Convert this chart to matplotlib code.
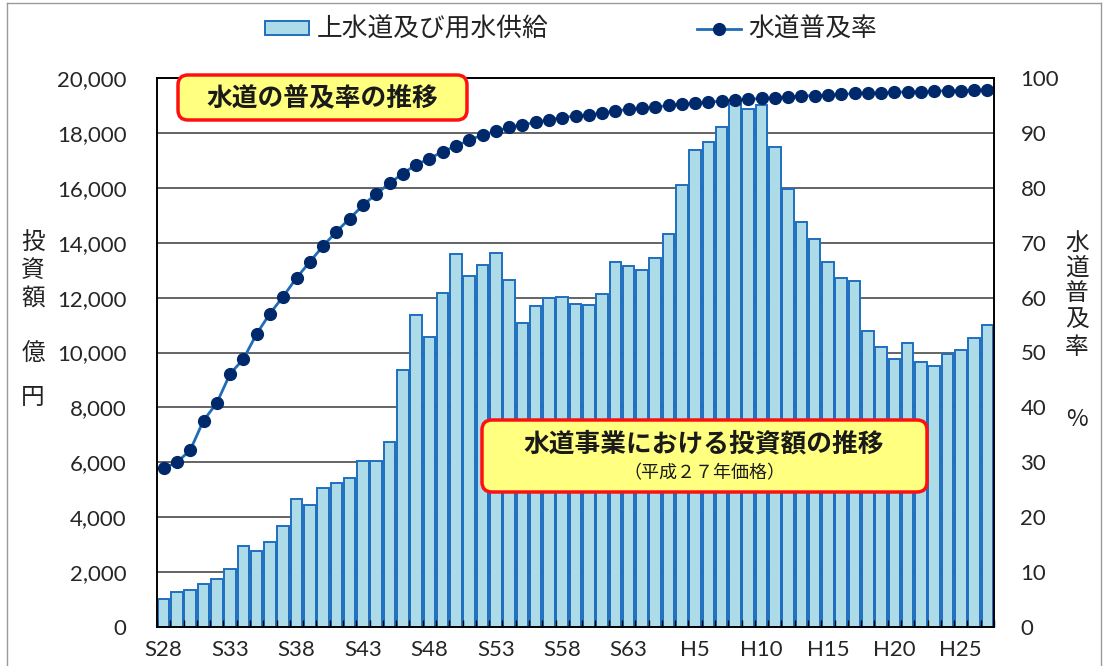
import numpy as np
import matplotlib
matplotlib.use("Agg")
import matplotlib.pyplot as plt
from matplotlib.patches import FancyBboxPatch
from matplotlib.lines import Line2D

plt.rcParams['font.family'] = ['Noto Sans CJK JP', 'DejaVu Sans']

# 年度 (S28 - H27)
years = ["S28", "S29", "S30", "S31", "S32", "S33", "S34", "S35", "S36", "S37",
         "S38", "S39", "S40", "S41", "S42", "S43", "S44", "S45", "S46", "S47",
         "S48", "S49", "S50", "S51", "S52", "S53", "S54", "S55", "S56", "S57",
         "S58", "S59", "S60", "S61", "S62", "S63", "H1", "H2", "H3", "H4",
         "H5", "H6", "H7", "H8", "H9", "H10", "H11", "H12", "H13", "H14",
         "H15", "H16", "H17", "H18", "H19", "H20", "H21", "H22", "H23", "H24",
         "H25", "H26", "H27"]

# 投資額 (億円, 平成27年価格)
investment = [1030, 1260, 1340, 1560, 1740, 2130, 2950, 2780, 3100, 3690,
              4660, 4460, 5060, 5250, 5430, 6040, 6060, 6750, 9370, 11370,
              10560, 12160, 13580, 12800, 13200, 13620, 12650, 11080, 11700, 12000,
              12040, 11770, 11730, 12140, 13280, 13160, 12990, 13460, 14330, 16100,
              17390, 17680, 18230, 19050, 18860, 19000, 17490, 15970, 14770, 14130,
              13280, 12720, 12590, 10770, 10190, 9770, 10330, 9640, 9490, 9950,
              10080, 10520, 11000]

# 水道普及率 (%)
coverage = [28.9, 30.0, 32.2, 37.6, 40.8, 46.1, 48.8, 53.4, 57.1, 60.2,
            63.6, 66.5, 69.4, 72.0, 74.4, 76.8, 78.9, 80.8, 82.6, 84.2,
            85.3, 86.6, 87.6, 88.7, 89.6, 90.3, 91.0, 91.5, 91.9, 92.4,
            92.8, 93.1, 93.3, 93.6, 94.0, 94.3, 94.5, 94.7, 95.0, 95.2,
            95.4, 95.6, 95.8, 96.0, 96.1, 96.3, 96.4, 96.6, 96.7, 96.8,
            96.9, 97.0, 97.2, 97.3, 97.3, 97.4, 97.5, 97.5, 97.6, 97.7,
            97.7, 97.8, 97.9]

tick_labels = ["S28", "S33", "S38", "S43", "S48", "S53", "S58", "S63",
               "H5", "H10", "H15", "H20", "H25"]
left_ticks = list(range(0, 20001, 2000))
right_ticks = list(range(0, 101, 10))

W, H = 1108, 666
fig = plt.figure(figsize=(W / 100, H / 100), dpi=100)
ax = fig.add_axes([157 / W, 1 - 627 / H, (994 - 157) / W, (627 - 78) / H])

x = np.arange(len(years))
bars = ax.bar(x, investment, width=0.88, color="#ADDCE8", edgecolor="#1F6FC0",
              linewidth=1.4, zorder=1, label="上水道及び用水供給")
for v in left_ticks[1:]:
    ax.axhline(v, color="#3a3a3a", lw=1.1, zorder=0.5)

ax.set_xlim(-0.5, len(years) - 0.5)
ax.set_ylim(0, 20000)
ax.set_yticks(left_ticks)
ax.set_yticklabels([f"{v:,}" for v in left_ticks])
ax.set_xticks([years.index(t) for t in tick_labels])
ax.set_xticklabels(tick_labels)
ax.set_xticks(np.arange(-0.5, len(years)), minor=True)
ax.tick_params(axis='x', which='major', length=0, pad=9)
ax.tick_params(axis='x', which='minor', direction='in', length=5, width=1, color='black')
ax.tick_params(axis='y', length=0, pad=22)
for lab in ax.get_xticklabels() + ax.get_yticklabels():
    lab.set_fontfamily('Lato')
    lab.set_fontsize(16)
    lab.set_color('#262626')
for s in ax.spines.values():
    s.set_color('black')
    s.set_linewidth(1.2)

ax2 = ax.twinx()
line, = ax2.plot(x, coverage, color="#1F6DB5", lw=2, marker="o", ms=8.5,
                 mfc="#00296B", mec="#00296B", label="水道普及率", clip_on=False)
ax2.set_ylim(0, 100)
ax2.set_yticks(right_ticks)
ax2.tick_params(axis='y', length=0, pad=19)
for lab in ax2.get_yticklabels():
    lab.set_fontfamily('Lato')
    lab.set_fontsize(16)
    lab.set_color('#262626')
for s in ax2.spines.values():
    s.set_color('black')
    s.set_linewidth(1.2)

# legend
fig.legend(handles=[bars, line], loc='center', bbox_to_anchor=(571 / W, 1 - 30 / H),
           ncol=2, frameon=False, fontsize=18.5, handlelength=1.7, handleheight=0.5,
           handletextpad=0.3, columnspacing=5.8, labelcolor='#222222')

# axis titles (vertical characters)
for ch, yy in zip("投資額億円", [242, 271, 299, 354, 397]):
    fig.text(33 / W, 1 - yy / H, ch, ha='center', va='center', fontsize=17, color='#222222')
for ch, yy in zip("水道普及率", [243, 268, 294, 320, 348]):
    fig.text(1077 / W, 1 - yy / H, ch, ha='center', va='center', fontsize=17, color='#222222')
fig.text(1077 / W, 1 - 419 / H, "%", ha='center', va='center', fontsize=17, color='#222222')

# annotation boxes
def note_box(x0, y0, x1, y1):
    p = FancyBboxPatch((x0 / 100, (H - y1) / 100), (x1 - x0) / 100, (y1 - y0) / 100,
                       boxstyle="round,pad=0,rounding_size=0.1",
                       transform=fig.dpi_scale_trans, facecolor="#FFFF80",
                       edgecolor="#FF1010", linewidth=2.5, zorder=5)
    fig.add_artist(p)

note_box(178, 75, 467, 120)
fig.text(322 / W, 1 - 98 / H, "水道の普及率の推移", ha='center', va='center',
         fontsize=18.5, fontweight='bold', color='#1a1a1a', zorder=6)

note_box(482, 420, 927, 492)
fig.text(704 / W, 1 - 444 / H, "水道事業における投資額の推移", ha='center', va='center',
         fontsize=18.5, fontweight='bold', color='#1a1a1a', zorder=6)
fig.text(704 / W, 1 - 473 / H, "（平成２７年価格）", ha='center', va='center',
         fontsize=13, color='#1a1a1a', zorder=6)

# outer frame
for xs, ys in [([7, 7], [H, 3]), ([7, 1101], [3, 3]), ([1101, 1101], [3, H])]:
    fig.add_artist(Line2D([v / W for v in xs], [1 - v / H for v in ys],
                          transform=fig.transFigure, color='#9a9a9a', lw=1))

fig.savefig("out.png", dpi=100)
